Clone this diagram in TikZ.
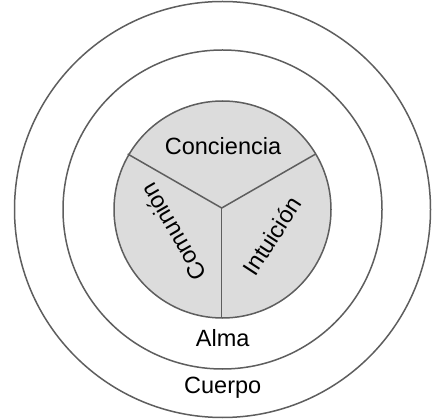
\documentclass[tikz,border=0pt]{standalone}
\usepackage{fontspec}
\setmainfont{Liberation Sans}
\definecolor{ringgray}{HTML}{5E5E5E}
\definecolor{corefill}{HTML}{DCDCDC}
\tikzset{
  ring/.style={draw=ringgray, line width=1.5pt},
  divider/.style={draw=ringgray, line width=1.5pt},
  lbl/.style={font=\fontsize{23.5}{26}\selectfont, inner sep=0pt}
}
\begin{document}
\begin{tikzpicture}[x=1pt,y=-1pt]
\useasboundingbox (0,0) rectangle (441,419);
\fill[white] (0,0) rectangle (441,419);
\coordinate (c) at (222.5,209.5);
\draw[ring] (c) circle[radius=208];
\draw[ring] (c) circle[radius=159.5];
\draw[ring, fill=corefill] (c) circle[radius=108.5];
\coordinate (y) at (221.7,208);
\path (y) ++(-94,-54) coordinate (yl);
\path (y) ++(94,-54) coordinate (yr);
\path (y) ++(0,109) coordinate (yb);
\draw[divider] (y) -- (yl);
\draw[divider] (y) -- (yr);
\draw[divider] (y) -- (yb);
\node[lbl] (conciencia) at (223,146) {Conciencia};
\node[lbl, rotate=120] (comunion) at (173,232) {Comunión};
\node[lbl, rotate=57] (intuicion) at (272,236) {Intuición};
\node[lbl] (alma) at (222.7,338) {Alma};
\node[lbl] (cuerpo) at (222.7,388) {Cuerpo};
\end{tikzpicture}
\end{document}
